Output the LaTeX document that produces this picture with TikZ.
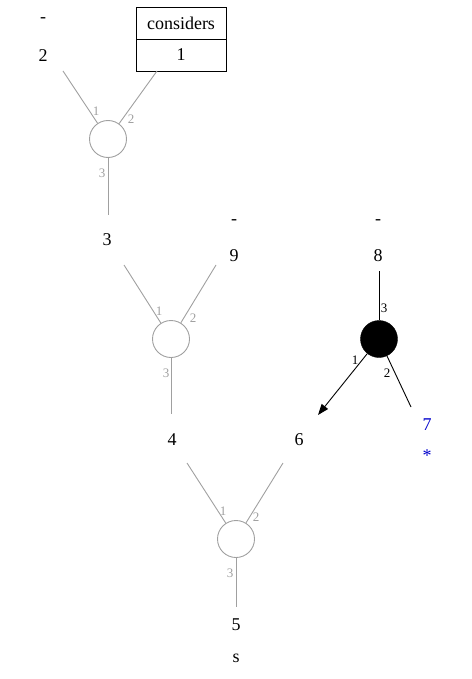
\documentclass[tikz,border=0pt]{standalone}
\usepackage{fontspec}
\setmainfont{Liberation Serif}
\usetikzlibrary{arrows.meta}
\definecolor{lgray}{HTML}{A0A0A0}
\definecolor{wblue}{HTML}{0000CC}
\begin{document}
\begin{tikzpicture}[x=1pt,y=-1pt,
  txt/.style={font=\fontsize{18}{18}\selectfont,inner sep=0pt},
  btxt/.style={txt,text=wblue},
  lbl/.style={font=\fontsize{13}{13}\selectfont,inner sep=0pt,text=lgray},
  blbl/.style={font=\fontsize{13}{13}\selectfont,inner sep=0pt,text=black},
  hub/.style={circle,draw=lgray,line width=0.9pt,minimum size=37pt,inner sep=0pt},
  bhub/.style={circle,fill=black,draw=black,minimum size=37pt,inner sep=0pt},
  gline/.style={draw=lgray,line width=0.9pt},
  bline/.style={draw=black,line width=0.9pt},
  cell/.style={draw=black,line width=0.9pt,minimum width=90pt,minimum height=32pt,inner sep=0pt,font=\fontsize{18}{18}\selectfont}]
\useasboundingbox (0,0) rectangle (471,679);
% texts
\node[txt] (d1) at (43,20) {-};
\node[txt] (t2) at (43,56) {2};
\node[cell] (bx1) at (181,23) {considers};
\node[cell] (bx2) at (181,55) {1};
\node[txt] (t3) at (107,240) {3};
\node[txt] (d9) at (234,222) {-};
\node[txt] (t9) at (234,256) {9};
\node[txt] (d8) at (378,222) {-};
\node[txt] (t8) at (378,256) {8};
\node[txt] (t4) at (172,440) {4};
\node[txt] (t6) at (299,440) {6};
\node[btxt] (t7) at (427,425) {7};
\node[btxt] (st7) at (427,456) {*};
\node[txt] (t5) at (236,625) {5};
\node[txt] (ts) at (236,658) {s};
% hubs
\node[hub] (c1) at (108,139) {};
\node[hub] (c2) at (171,339) {};
\node[hub] (c3) at (236,539) {};
\node[bhub] (c4) at (379,339) {};
% line ends
\coordinate (p11) at (63,71);
\coordinate (p12) at (157,71);
\coordinate (p13) at (108,215);
\coordinate (p21) at (124,265);
\coordinate (p22) at (216,265);
\coordinate (p23) at (171,414);
\coordinate (p31) at (187,463);
\coordinate (p32) at (283,463);
\coordinate (p33) at (236,607);
\coordinate (p41) at (318,415);
\coordinate (p42) at (411,407);
\coordinate (p43) at (379,271);
% connectors
\draw[gline] (c1) -- (p11);
\draw[gline] (c1) -- (p12);
\draw[gline] (c1) -- (p13);
\draw[gline] (c2) -- (p21);
\draw[gline] (c2) -- (p22);
\draw[gline] (c2) -- (p23);
\draw[gline] (c3) -- (p31);
\draw[gline] (c3) -- (p32);
\draw[gline] (c3) -- (p33);
\draw[bline,-{Triangle[length=11pt,width=8pt]}] (c4) -- (p41);
\draw[bline] (c4) -- (p42);
\draw[bline] (c4) -- (p43);
% port labels
\node[lbl] (l11) at (96,111) {1};
\node[lbl] (l12) at (131,119) {2};
\node[lbl] (l13) at (102,173) {3};
\node[lbl] (l21) at (159,311) {1};
\node[lbl] (l22) at (193,318) {2};
\node[lbl] (l23) at (166,373) {3};
\node[lbl] (l31) at (223,511) {1};
\node[lbl] (l32) at (256,517) {2};
\node[lbl] (l33) at (230,573) {3};
\node[blbl] (l41) at (355,360) {1};
\node[blbl] (l42) at (387,373) {2};
\node[blbl] (l43) at (384,308) {3};
\end{tikzpicture}
\end{document}
